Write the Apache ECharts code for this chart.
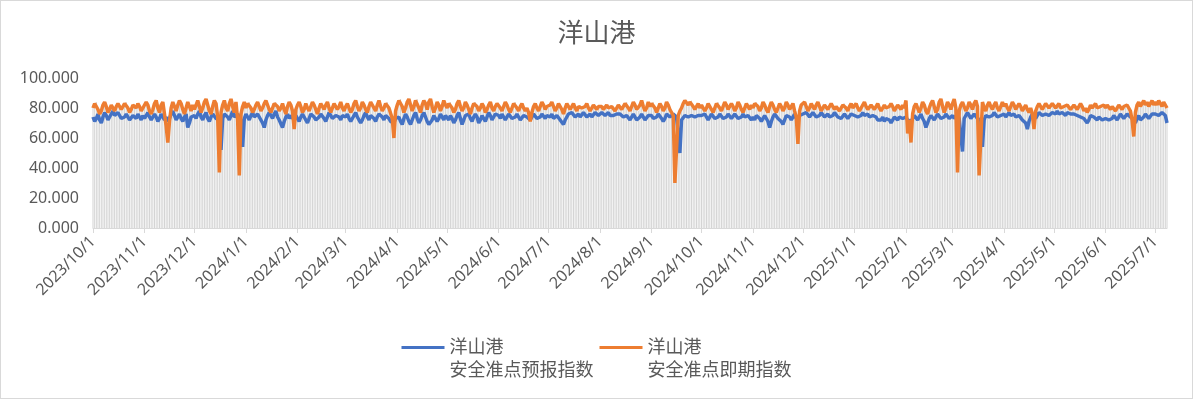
<!DOCTYPE html>
<html>
<head>
<meta charset="utf-8">
<script src="https://cdn.jsdelivr.net/npm/echarts@6/dist/echarts.min.js"></script>
<style>
  html, body { margin: 0; padding: 0; background: #fff; }
  #chart { width: 1193px; height: 399px; box-sizing: border-box; border: 1px solid #d9d9d9; }
</style>
</head>
<body>
<div id="chart"></div>
<script>
// daily values from 2023/10/1, one row per month
const startDate = [2023, 10, 1];

const forecast = [
  74,71,73,76,72,70,74,77,75,72,74,76,78,75,74,77,75,73,72,74,76,74,72,73,75,74,73,76,74,72,75,
  73,75,77,74,72,73,76,74,71,73,76,75,72,74,71,73,76,78,75,72,74,76,73,71,74,76,67,70,74,75,
  75,73,76,78,74,72,75,77,73,71,74,76,75,73,74,72,52,73,76,77,74,72,75,78,74,73,76,74,72,54,73,
  76,74,72,75,77,74,73,76,74,72,70,67,72,75,77,75,73,76,78,74,72,71,67,71,74,76,73,75,74,72,75,
  73,71,74,76,75,72,70,73,76,77,74,72,71,74,76,75,73,71,74,77,75,73,72,75,76,74,72,75,76,
  74,76,73,71,73,75,77,74,72,70,72,75,77,74,72,75,76,73,71,74,76,77,74,72,75,74,73,71,72,70,73,
  72,74,71,69,73,76,74,71,69,72,75,77,73,70,72,75,77,74,71,69,68,72,75,74,71,73,76,74,72,75,
  74,72,75,73,70,72,75,77,73,69,72,75,74,76,73,71,74,76,74,70,72,75,73,71,74,77,75,72,74,76,75,
  75,73,76,74,72,74,76,75,73,72,74,76,74,72,73,75,76,74,73,72,74,76,75,73,72,74,76,75,73,75,
  75,74,76,73,72,75,74,72,71,69,72,74,76,75,77,76,74,75,76,74,75,77,76,74,75,76,74,75,77,76,75,
  76,77,76,75,76,77,75,76,75,74,76,77,76,75,74,73,75,74,72,74,76,74,72,71,74,76,75,72,73,75,76,
  75,73,72,74,76,75,73,71,73,76,75,74,75,76,75,74,75,50,72,73,75,76,74,73,75,76,74,73,75,76,
  75,74,76,74,72,74,76,75,73,72,74,76,75,73,72,74,76,75,73,74,76,75,73,72,74,76,74,73,75,74,72,
  74,72,75,76,73,71,73,75,74,71,67,71,74,76,75,73,72,71,69,72,75,76,74,72,74,76,73,74,75,76,
  76,75,77,76,74,75,77,76,74,73,75,77,76,74,75,76,74,73,75,77,76,74,75,73,74,76,75,73,74,76,75,
  75,76,74,73,75,77,75,74,76,74,73,75,76,74,72,73,72,74,71,73,74,72,70,72,74,73,72,74,75,73,72,
  74,72,73,71,73,75,74,72,74,76,73,71,67,70,73,75,74,72,74,76,75,73,72,74,76,75,73,74,
  75,73,74,76,73,72,51,73,75,77,75,73,74,76,75,73,72,72,54,72,75,76,74,73,75,77,76,74,73,75,76,
  76,74,75,77,75,74,76,74,73,75,74,72,73,70,66,71,74,76,75,73,75,77,76,75,74,76,77,75,76,77,
  77,76,78,76,75,77,76,75,77,78,76,75,76,77,75,76,74,75,73,72,70,72,75,76,74,73,72,74,73,72,71,
  73,74,72,71,73,75,74,72,74,76,75,73,74,76,75,74,73,72,70,73,75,72,73,74,76,75,73,74,76,75,
  76,77,75,76,77,76,75,70
];

const immediate = [
  80,83,84,79,76,78,82,84,81,77,79,82,80,78,81,83,82,79,80,83,84,80,77,79,82,81,80,83,81,78,80,
  81,84,82,78,76,79,83,85,80,77,82,84,76,68,57,71,80,84,81,78,82,85,83,79,76,80,84,81,78,82,
  79,82,85,81,77,80,84,86,82,78,76,81,85,83,74,37,77,82,85,80,78,83,86,81,77,84,72,35,76,81,84,
  80,83,84,80,77,79,82,84,81,78,80,83,85,82,79,77,80,83,84,81,78,80,83,79,76,81,84,82,78,66,79,
  82,84,81,77,79,83,80,78,81,84,82,79,76,80,83,81,79,82,84,80,77,80,83,82,79,81,84,80,78,
  81,83,80,77,79,83,85,81,78,80,84,82,79,77,81,84,83,80,78,82,85,81,78,80,83,84,80,79,73,60,78,
  82,85,86,81,77,80,84,86,82,78,81,85,86,80,77,82,85,83,79,84,86,81,77,80,84,82,78,81,85,82,
  80,83,84,80,77,79,83,85,81,78,80,84,82,79,76,80,83,84,81,78,80,83,81,77,79,82,84,80,78,81,83,
  82,80,78,81,84,82,79,77,80,83,84,80,78,81,83,80,78,80,77,71,77,81,83,80,78,81,84,82,79,81,
  80,82,84,81,78,80,83,81,79,76,80,83,82,79,81,83,80,78,81,82,80,79,81,83,80,78,80,82,81,79,81,
  80,81,79,80,82,80,79,81,80,78,80,82,81,79,80,83,84,80,78,81,84,82,79,78,82,85,81,78,80,84,81,
  83,84,80,77,80,83,81,78,80,84,82,79,77,75,30,30,75,78,80,83,85,84,82,84,85,81,79,81,83,80,
  82,80,78,80,83,81,79,77,80,83,84,80,78,81,84,82,79,80,83,81,78,80,84,82,79,77,80,83,81,79,82,
  80,83,84,81,78,80,84,82,79,77,81,84,82,79,77,80,83,81,78,80,84,82,79,81,83,78,74,56,78,82,
  83,84,81,78,80,83,81,79,82,84,81,78,80,82,81,79,80,83,82,79,81,80,78,80,82,83,80,78,81,83,80,
  81,83,80,78,80,82,84,81,79,80,82,81,79,81,83,80,78,80,82,80,79,81,83,81,78,80,82,81,79,82,80,
  85,63,72,57,76,81,83,80,77,80,84,82,78,76,80,83,85,81,77,79,84,86,81,77,80,84,82,79,
  83,86,80,37,78,82,84,81,78,80,84,82,79,83,85,81,35,35,84,80,78,82,84,81,79,82,84,80,78,81,84,
  81,83,80,78,81,84,82,79,80,83,81,78,80,82,79,77,80,76,66,78,81,83,81,79,81,83,82,80,81,83,
  82,80,81,83,80,79,81,80,82,81,79,80,82,81,79,80,83,81,78,80,77,79,82,80,81,83,80,79,81,80,82,
  80,82,81,79,81,80,78,80,82,81,79,81,80,82,80,78,72,61,77,82,84,81,83,85,82,84,81,83,85,82,
  84,82,85,83,81,84,83,80
];

const seriesNames = ['洋山港\n安全准点预报指数', '洋山港\n安全准点即期指数'];
const yTicks = [0, 20, 40, 60, 80, 100];

// date labels, one per day
var dates = [];
var d = new Date(startDate[0], startDate[1] - 1, startDate[2]);
for (var i = 0; i < forecast.length; i++) {
  dates.push(d.getFullYear() + '/' + (d.getMonth() + 1) + '/' + d.getDate());
  d.setDate(d.getDate() + 1);
}
// drop lines go from the higher of the two points down to the axis
var dropLines = forecast.map((v, i) => Math.max(v, immediate[i]));

const isMonthStart = (idx, val) => val.endsWith('/1');
const font = "'Noto Sans', 'Noto Sans CJK SC', sans-serif";

const option = {
  animation: false,
  title: {
    text: '洋山港',
    left: 'center',
    top: 16,
    textStyle: { color: '#595959', fontSize: 26, fontWeight: 'normal', fontFamily: font },
  },
  legend: {
    data: seriesNames,
    left: 'center',
    top: 307,
    icon: 'rect',
    itemWidth: 43,
    itemHeight: 3,
    itemGap: 6,
    // empty first line so the icon sits next to the first text line
    formatter: (name) => '\n' + name,
    textStyle: { color: '#595959', fontSize: 18, fontFamily: font, lineHeight: 23 },
  },
  grid: { left: 92, right: 25, top: 77, bottom: 170, containLabel: false },
  xAxis: {
    type: 'category',
    data: dates,
    boundaryGap: false,
    axisLine: { lineStyle: { color: '#d9d9d9', width: 1 } },
    axisTick: { interval: isMonthStart, length: 5, lineStyle: { color: '#d9d9d9' } },
    axisLabel: {
      interval: isMonthStart, rotate: 45, margin: 11,
      color: '#595959', fontSize: 16, fontFamily: font,
    },
    splitLine: { show: false },
  },
  yAxis: {
    type: 'value',
    min: yTicks[0],
    max: yTicks[yTicks.length - 1],
    interval: 20,
    axisLine: { show: false },
    axisTick: { show: false },
    splitLine: { show: false },
    axisLabel: {
      color: '#595959', fontSize: 16, fontFamily: font, margin: 14,
      formatter: (v) => v.toFixed(3),
    },
  },
  series: [
    {
      name: 'drop',
      type: 'bar',
      data: dropLines,
      barWidth: 1,
      silent: true,
      itemStyle: { color: '#d4d4d4' },
      z: 1,
    },
    {
      name: seriesNames[0],
      type: 'line',
      data: forecast,
      showSymbol: false,
      lineStyle: { color: '#4472C4', width: 3.5 },
      itemStyle: { color: '#4472C4' },
      z: 2,
    },
    {
      name: seriesNames[1],
      type: 'line',
      data: immediate,
      showSymbol: false,
      lineStyle: { color: '#ED7D31', width: 3.5 },
      itemStyle: { color: '#ED7D31' },
      z: 3,
    },
  ],
};

var myChart = echarts.init(document.getElementById('chart'));
myChart.setOption(option);
</script>
</body>
</html>
